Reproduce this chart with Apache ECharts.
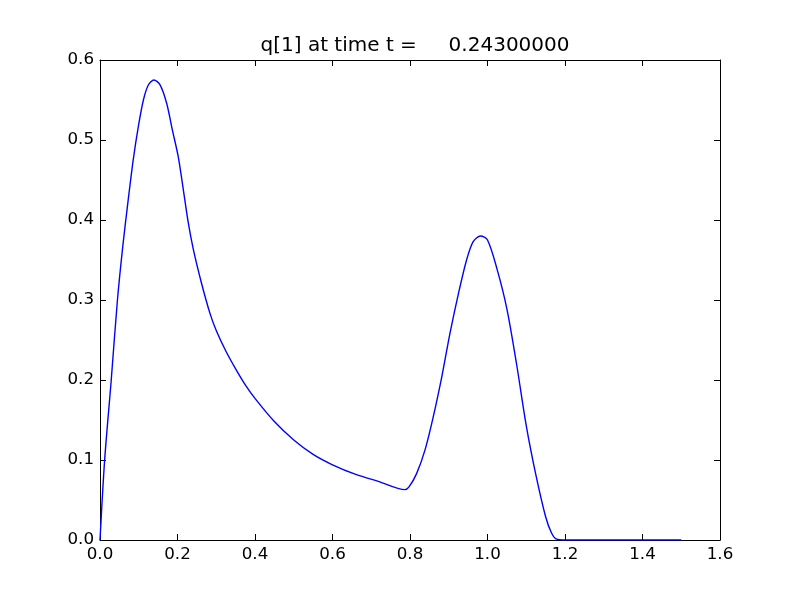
<!DOCTYPE html>
<html>
<head>
<meta charset="utf-8">
<script src="https://cdn.jsdelivr.net/npm/echarts@6/dist/echarts.min.js"></script>
<style>html,body{margin:0;padding:0;background:#fff}#c{width:800px;height:600px}</style>
</head>
<body>
<div id="c"></div>
<script>
var titleText = 'q[1] at time t =     0.24300000';
var xs = [0.000,0.012,0.029,0.045,0.059,0.073,0.086,0.099,0.112,0.125,0.139,0.155,0.172,0.187,0.202,0.215,0.228,0.241,0.262,0.284,0.300,0.325,0.350,0.375,0.400,0.450,0.500,0.550,0.600,0.660,0.720,0.787,0.797,0.817,0.839,0.860,0.882,0.903,0.925,0.946,0.963,0.982,1.000,1.025,1.050,1.075,1.100,1.125,1.150,1.165,1.178,1.200,1.500];
var ys = [0.000,0.100,0.200,0.300,0.368,0.426,0.476,0.517,0.550,0.569,0.575,0.569,0.546,0.512,0.479,0.438,0.396,0.363,0.321,0.283,0.262,0.236,0.214,0.194,0.177,0.148,0.125,0.107,0.094,0.082,0.073,0.063,0.066,0.083,0.113,0.154,0.204,0.258,0.308,0.350,0.373,0.380,0.375,0.338,0.289,0.220,0.143,0.081,0.029,0.009,0.001,0.000,0.000];
var xTicks = [0.0,0.2,0.4,0.6,0.8,1.0,1.2,1.4,1.6];
var yTicks = [0.0,0.1,0.2,0.3,0.4,0.5,0.6];

var pts = xs.map(function(x,i){return [x, ys[i]];});
var font = 'DejaVu Sans';
var chart = echarts.init(document.getElementById('c'), null, {renderer:'canvas'});
function ax(pos, show, minV, maxV, iv) {
  return {
    type:'value', position:pos, min:minV, max:maxV, interval:iv,
    splitLine:{show:false},
    axisLine:{show:true, onZero:false, lineStyle:{color:'#000', width:1}},
    axisTick:{show:true, inside:true, length:6, lineStyle:{color:'#000', width:1}},
    axisLabel:{show:show, color:'#000', fontFamily:font, fontSize:16.7, margin:6,
      formatter:function(v){return v.toFixed(1);}}
  };
}
chart.setOption({
  animation:false,
  backgroundColor:'#fff',
  title:{text:titleText, left:410, textAlign:'center', top:31,
    textStyle:{fontFamily:font, fontSize:20, fontWeight:'normal', color:'#000'}},
  grid:{left:100, right:80, top:60, bottom:60, containLabel:false},
  xAxis:[ax('bottom', true, 0, 1.6, 0.2), ax('top', false, 0, 1.6, 0.2)],
  yAxis:[ax('left', true, 0, 0.6, 0.1), ax('right', false, 0, 0.6, 0.1)],
  series:[{type:'line', data:pts, xAxisIndex:0, yAxisIndex:0, showSymbol:false,
    smooth:0.3,
    lineStyle:{color:'#0000ff', width:1.4}}]
});
</script>
</body>
</html>
